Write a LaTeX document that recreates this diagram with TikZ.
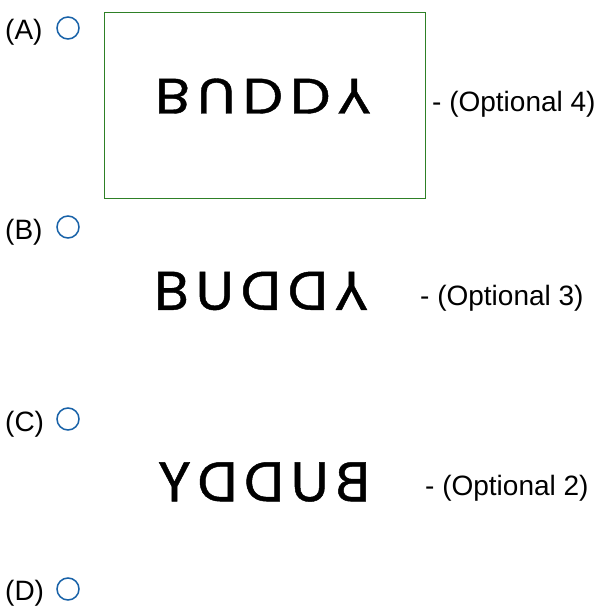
\documentclass[tikz,border=0pt]{standalone}
\usepackage{fontspec}
\usepackage{graphicx}
\setmainfont{Liberation Sans}
\newfontfamily\buddyfont[FakeBold=0.8]{Poppins}
\usetikzlibrary{positioning}

\definecolor{radioblue}{RGB}{24,98,168}
\definecolor{framegreen}{RGB}{46,128,38}
\newcommand{\vflip}[1]{\raisebox{\depth}{\scalebox{1}[-1]{#1}}}
\newcommand{\buddy}[5]{{\buddyfont #1\kern0.12em #2\kern0.12em #3\kern0.12em #4\kern0.12em #5}}

\begin{document}
\begin{tikzpicture}[x=1pt, y=-1pt]
				\tikzstyle{Label} = [inner sep=0pt, anchor=west, font=\fontsize{28}{33}\selectfont]
				\tikzstyle{Radio} = [circle, minimum size=22pt, inner sep=0pt, draw=radioblue, line width=1.5pt]
				\tikzstyle{Word} = [inner sep=0pt]
				\tikzstyle{Frame} = [rectangle, minimum width=321pt, minimum height=186pt, draw=framegreen, line width=1pt]
				
				\useasboundingbox (0,0) rectangle (598,609);
				% answer A
				\node (la) [Label] at (5,32) {(A)};
				\node (ra) [Radio] at (68,28) {};
				\node (fa) [Frame] at (264.5,106) {};
				\node (wa) [Word] at (263,96) {\resizebox{216pt}{35pt}{\vflip{\buddy{B}{U}{D}{D}{Y}}}};
				\node (oa) [Label] at (432,104) {- (Optional 4)};
				% answer B
				\node (lb) [Label] at (5,232) {(B)};
				\node (rb) [Radio] at (68,227) {};
				\node (wb) [Word] at (261,291) {\resizebox{214pt}{38pt}{\buddy{B}{U}{\reflectbox{D}}{\reflectbox{D}}{\vflip{Y}}}};
				\node (ob) [Label] at (420,298) {- (Optional 3)};
				% answer C
				\node (lc) [Label] at (5,424) {(C)};
				\node (rc) [Radio] at (68,419) {};
				\node (wc) [Word] at (264,482) {\resizebox{212pt}{39pt}{\reflectbox{\buddy{B}{U}{D}{D}{Y}}}};
				\node (oc) [Label] at (425,488) {- (Optional 2)};
				% answer D
				\node (ld) [Label] at (5,593) {(D)};
				\node (rd) [Radio] at (68,589) {};
			\end{tikzpicture}
\end{document}
